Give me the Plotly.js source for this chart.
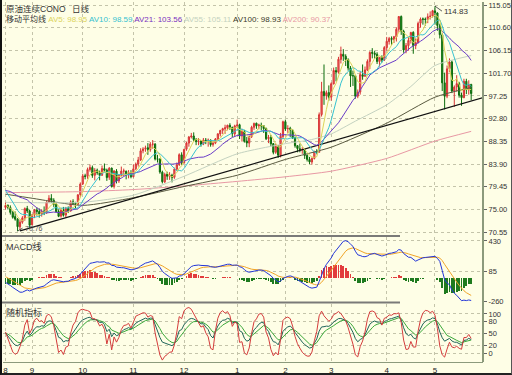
<!DOCTYPE html>
<html><head><meta charset="utf-8">
<script src="https://cdn.plot.ly/plotly-3.0.1.min.js"></script>
<style>
html,body{margin:0;padding:0;background:#fefee6;}
#wrap{position:relative;width:512px;height:375px;overflow:hidden;}
#chart{width:512px;height:375px;}
#frame{position:absolute;left:0;top:0;width:512px;height:375px;box-sizing:border-box;border-left:2px solid #111;border-bottom:2px solid #222;border-right:1px solid #555;pointer-events:none;}
</style></head><body>
<div id="wrap"><div id="chart"></div><div id="frame"></div></div>
<script>
// ---------- data ----------
const monthLabels = ['8','9','10','11','12','1','2','3','4','5'];
const monthCounts = [11,21,21,21,22,20,19,23,20,16];

// closes before the first visible bar (warm-up for the short averages / MACD)
const priorClose = [77.58,77.42,76.65,79.30,78.98,79.00,77.50,76.00,78.36,78.95,81.34,82.55,82.49,82.01,80.70,81.48,80.25,78.02,75.74,75.39,75.24];

const openP = [
75.4,75.8,75.4,74.4,73.6,73.1,71.6,72.5,73.4,75.2,74.7,
72.0,73.9,74.9,74.6,74.1,74.7,74.3,76.5,77.2,76.8,76.0,74.6,73.7,74.9,73.9,75.2,74.7,76.5,76.2,76.0,77.9,
80.0,81.6,81.5,82.8,83.2,81.7,82.7,82.2,81.7,83.0,82.7,81.3,83.1,79.5,82.5,80.6,81.7,82.5,82.5,81.9,82.2,
81.4,83.0,83.9,84.7,86.5,86.9,87.1,86.7,87.8,87.8,84.9,84.9,82.3,80.4,81.9,81.5,81.7,81.3,82.9,83.8,85.7,
84.1,86.8,88.0,89.2,89.4,88.7,88.3,88.4,87.8,88.6,88.3,88.6,87.7,88.0,88.8,89.8,90.5,90.8,91.0,91.5,91.1,89.8,
91.4,91.6,89.4,90.3,88.4,88.0,89.3,91.1,91.9,91.4,91.5,91.4,90.9,88.9,89.1,87.9,86.2,87.3,85.6,89.3,
92.2,90.8,90.9,90.5,89.0,87.5,86.9,86.7,86.7,85.6,84.8,84.3,85.0,86.4,86.2,93.6,98.1,97.3,97.9,
97.0,99.6,102.2,101.9,104.4,105.4,105.0,104.4,102.7,101.2,101.2,97.2,98.0,101.4,101.1,102.3,104.0,105.8,105.6,105.4,104.0,104.8,104.3,
106.7,107.9,108.5,108.3,108.8,110.3,112.8,109.9,106.3,107.1,108.1,109.7,107.1,107.7,111.5,112.3,112.3,112.2,112.8,112.9,
113.9,113.5,111.0,109.2,99.8,97.2,102.6,103.9,98.2,99.0,99.7,97.4,96.9,100.1,98.4,99.5];

const highP = [
76.4,76.0,75.8,74.7,74.6,73.3,73.0,73.7,75.4,75.7,74.9,
74.1,75.1,75.4,75.2,75.0,75.6,76.6,77.8,78.0,77.2,76.3,75.0,75.3,75.5,75.5,75.6,76.8,77.0,76.5,78.0,80.3,
82.0,82.0,83.2,83.8,83.6,83.1,83.0,82.6,83.6,84.0,83.0,83.3,83.2,82.7,82.9,81.9,83.4,83.0,82.6,82.7,82.7,
83.8,84.2,85.3,87.0,87.2,87.5,88.0,88.2,88.6,88.0,85.7,85.0,82.6,82.2,82.4,82.3,82.0,83.2,84.2,86.0,86.2,
86.9,88.3,89.4,90.0,90.1,89.0,89.0,88.6,89.0,89.0,88.9,88.7,88.4,89.0,89.9,90.6,91.0,91.6,91.6,91.9,91.2,91.6,
92.6,91.8,90.8,90.6,89.2,89.5,91.4,92.0,92.0,91.8,92.0,91.5,91.0,89.6,89.6,88.0,87.9,87.6,90.0,92.4,
92.6,91.5,91.2,90.7,89.3,87.6,87.9,87.2,86.9,85.8,85.3,85.2,86.5,86.8,94.0,100.0,103.4,98.3,99.3,
99.9,102.8,102.9,104.9,106.9,106.4,105.4,104.6,103.1,102.2,101.3,98.5,102.0,103.4,103.0,104.4,106.0,106.6,106.1,105.8,104.8,105.2,107.0,
108.8,108.8,108.9,109.0,110.7,112.9,113.0,110.2,107.6,108.8,109.8,109.9,108.5,111.8,112.6,112.6,112.6,113.4,113.8,114.1,
114.83,113.6,111.4,109.5,101.8,103.2,104.6,104.2,99.3,101.3,100.0,97.9,100.6,100.6,100.3,99.6];

const lowP = [
75.0,75.0,74.0,73.2,72.8,70.76,71.0,72.2,72.8,74.3,71.4,
71.9,73.3,73.8,73.4,73.6,73.9,74.2,76.3,76.3,75.5,74.4,73.5,73.4,73.6,73.5,74.3,74.6,75.9,75.2,75.9,77.4,
79.8,80.9,81.0,82.4,81.2,80.7,81.8,80.7,81.6,82.3,80.6,80.8,79.3,79.1,80.1,80.2,81.6,81.5,80.9,81.1,81.1,
81.3,82.7,83.4,84.5,86.0,86.3,85.7,86.3,86.9,84.6,84.2,82.0,80.1,80.2,80.8,80.8,80.3,81.0,82.6,83.5,83.7,
84.0,86.5,87.3,88.9,88.3,87.6,87.6,87.3,87.6,87.8,87.3,87.3,87.3,87.8,88.5,89.3,89.8,89.8,90.5,90.6,89.2,89.3,
91.0,88.8,88.3,88.1,87.2,87.2,89.0,90.6,90.8,90.7,90.5,90.0,88.6,88.0,87.4,85.8,85.9,85.1,85.2,88.8,
90.4,90.0,89.2,88.8,87.1,86.2,86.2,85.9,84.9,84.4,83.9,83.8,84.8,85.8,86.2,93.2,95.5,96.5,96.3,
96.3,99.5,100.1,101.6,103.6,104.1,103.1,102.2,99.0,99.2,96.7,96.8,97.5,100.4,101.0,102.1,102.5,104.6,104.5,103.5,103.0,103.8,104.1,
106.1,107.3,107.2,107.6,107.9,109.8,109.2,105.7,105.6,106.1,107.5,105.5,106.4,107.5,110.6,111.2,111.0,111.5,112.2,112.6,
111.2,110.0,108.5,98.2,94.6,96.8,101.9,97.8,95.1,98.1,96.9,95.3,96.8,97.6,97.5,96.4];

const closeP = [
75.77,75.42,74.43,73.46,73.10,71.63,72.52,73.36,75.17,74.70,71.92,
73.91,74.90,74.60,74.09,74.67,74.25,76.45,77.19,76.80,76.02,74.57,73.66,74.86,73.86,75.18,74.71,76.49,76.18,76.02,77.86,79.97,
81.58,81.47,82.82,83.23,81.67,82.66,82.21,81.67,83.01,82.69,81.25,83.08,79.49,82.54,80.56,81.69,82.52,82.55,81.94,82.18,81.43,
82.95,83.90,84.69,86.49,86.85,87.06,86.72,87.81,87.81,84.88,84.86,82.34,80.44,81.85,81.51,81.74,81.25,82.89,83.76,85.73,84.11,
86.75,88.00,89.19,89.38,88.69,88.28,88.37,87.79,88.61,88.28,88.62,87.70,88.02,88.81,89.82,90.48,90.83,91.00,91.49,91.12,89.84,91.38,
91.55,89.38,90.30,88.38,88.03,89.25,91.11,91.86,91.40,91.54,91.38,90.86,88.86,89.11,87.87,86.19,87.33,85.64,89.34,92.19,
90.77,90.86,90.54,89.03,87.48,86.94,86.71,86.73,85.58,84.81,84.32,84.99,86.36,86.20,93.57,98.10,97.28,97.88,96.97,
99.63,102.23,101.91,104.42,105.44,105.02,104.38,102.70,101.16,101.19,97.18,97.98,101.42,101.07,102.33,104.00,105.75,105.60,105.40,103.98,104.79,104.27,106.72,
107.94,108.47,108.34,108.83,110.30,112.79,109.92,106.25,107.11,108.11,109.66,107.12,107.68,111.45,112.29,112.28,112.21,112.76,112.86,113.93,
113.52,111.05,109.24,99.80,97.18,102.55,103.88,98.21,98.97,99.65,97.37,96.91,100.10,98.44,99.49,97.70];

// long averages at a few bars (bar number, value)
const av55Bar  = [0,20,32,53,74,96,116,126,135,145,158,168,178,193];
const av55Val  = [76.4,76.3,76.4,77.8,81.5,85.9,87.9,88.6,89.8,92.3,95.5,99.1,103.2,105.15];
const av100Bar = [0,11,32,53,74,96,116,135,158,178,193];
const av100Val = [78.0,77.2,75.8,77.3,79.5,81.7,84.8,87.2,91.9,97.0,98.9];
const av200Bar = [0,32,53,74,96,116,135,158,178,193];
const av200Val = [78.3,78.5,78.9,79.6,80.5,81.4,82.5,85.0,88.4,90.3];

// hand-drawn trend line (bar, price)
const trendBar   = [6, 198.7];
const trendPrice = [70.8, 97.0];

const maNames  = ['AV5','AV10','AV21','AV55','AV100','AV200'];
const maLegend = ['98.95','98.59','103.56','105.11','98.93','90.37'];
const maColors = ['#dcd45a','#36c2d0','#7a30c0','#c4d2c0','#3a3a2c','#e898a4'];

const priceTicks = [70.55,75.00,79.45,83.90,88.35,92.80,97.25,101.70,106.15,110.60,115.05];
const macdTicks  = [-260,85,430];
const kdjTicks   = [0,20,50,80,100];

// ---------- derived ----------
const N = closeP.length;
const bars = Array.from({length:N},(_,i)=>i);
const all = priorClose.concat(closeP);
const P = priorClose.length;
function sma(n){
  return bars.map(i=>{const j=i+P, s=Math.max(0,j-n+1); let t=0; for(let k=s;k<=j;k++) t+=all[k]; return t/(j-s+1);});
}
function ema(arr,n){const a=2/(n+1); const out=[]; let e=arr[0]; arr.forEach((v,i)=>{e=i===0?v:a*v+(1-a)*e; out.push(e);}); return out;}
const ma5=sma(5), ma10=sma(10), ma21=sma(21);
const e12=ema(all,12), e26=ema(all,26);
const difAll=all.map((_,i)=>(e12[i]-e26[i])*100);
const deaAll=ema(difAll,9);
const dif=difAll.slice(P), dea=deaAll.slice(P);
const hist=dif.map((v,i)=>v-dea[i]);
let K=50,D=50; const kA=[],dA=[],jA=[];
for(let i=0;i<N;i++){
  const s=Math.max(0,i-8);
  const hh=Math.max(...highP.slice(s,i+1)), ll=Math.min(...lowP.slice(s,i+1));
  const rsv=hh===ll?50:(closeP[i]-ll)/(hh-ll)*100;
  K=2/3*K+rsv/3; D=2/3*D+K/3; kA.push(K); dA.push(D); jA.push(3*K-2*D);
}
const monthPos=[]; monthCounts.reduce((acc,c)=>{monthPos.push(acc); return acc+c;},0);
const peakI = highP.indexOf(Math.max(...highP));
const lowI  = lowP.indexOf(Math.min(...lowP));

// ---------- layout helpers (pixel -> paper) ----------
const W=512,H=375,mL=3,mR=29,mT=2,mB=13;
const pw=W-mL-mR, ph=H-mT-mB;
const px=x=>(x-mL)/pw, py=y=>(H-mB-y)/ph;

const grid={showgrid:true,gridcolor:'#c4c4aa',griddash:'dot',gridwidth:1};
const yCommon=Object.assign({side:'right',anchor:'x',ticks:'outside',ticklen:3,tickcolor:'#666',
  tickfont:{size:7.5,color:'#333',family:'Liberation Sans, Arial'},zeroline:false,showline:false,fixedrange:true},grid);

const traces=[
 {type:'candlestick',x:bars,open:openP,high:highP,low:lowP,close:closeP,yaxis:'y',
  increasing:{line:{color:'#d83434',width:1},fillcolor:'#f06a6a'},
  decreasing:{line:{color:'#0c6c0c',width:1},fillcolor:'#1c8c1c'},
  whiskerwidth:0,hoverinfo:'skip',showlegend:false},
 {type:'scatter',mode:'lines',x:av200Bar,y:av200Val,yaxis:'y',line:{color:maColors[5],width:1,shape:'spline',smoothing:0.6},hoverinfo:'skip'},
 {type:'scatter',mode:'lines',x:av100Bar,y:av100Val,yaxis:'y',line:{color:'#5a5a40',width:1,shape:'spline',smoothing:0.6},hoverinfo:'skip'},
 {type:'scatter',mode:'lines',x:av55Bar,y:av55Val,yaxis:'y',line:{color:maColors[3],width:1,shape:'spline',smoothing:0.6},hoverinfo:'skip'},
 {type:'scatter',mode:'lines',x:trendBar,y:trendPrice,yaxis:'y',line:{color:'#111',width:1.2},hoverinfo:'skip'},
 {type:'scatter',mode:'lines',x:bars,y:ma21,yaxis:'y',line:{color:'#6a3cc8',width:1},hoverinfo:'skip'},
 {type:'scatter',mode:'lines',x:bars,y:ma10,yaxis:'y',line:{color:maColors[1],width:1},hoverinfo:'skip'},
 {type:'scatter',mode:'lines',x:bars,y:ma5,yaxis:'y',line:{color:maColors[0],width:1},hoverinfo:'skip'},
 {type:'bar',x:bars,y:hist,yaxis:'y2',width:0.75,marker:{color:hist.map(v=>v>=0?'#e23c3c':'#1e7a1e'),line:{width:0}},hoverinfo:'skip'},
 {type:'scatter',mode:'lines',x:bars,y:dea,yaxis:'y2',line:{color:'#f0a428',width:1},hoverinfo:'skip'},
 {type:'scatter',mode:'lines',x:bars,y:dif,yaxis:'y2',line:{color:'#2436d8',width:1},hoverinfo:'skip'},
 {type:'scatter',mode:'lines',x:bars,y:dA,yaxis:'y3',line:{color:'#3aa83a',width:1},hoverinfo:'skip'},
 {type:'scatter',mode:'lines',x:bars,y:kA,yaxis:'y3',line:{color:'#1e6458',width:1},hoverinfo:'skip'},
 {type:'scatter',mode:'lines',x:bars,y:jA,yaxis:'y3',line:{color:'#d43c3c',width:1},hoverinfo:'skip'}
];

const legendSpans = '移动平均线 ' + maNames.map((n,i)=>`<span style="color:${maColors[i]}">${n}: ${maLegend[i]}</span>`).join(' ');
const txt=(t,x,y,size,color,xa)=>({text:t,xref:'paper',yref:'paper',x:px(x),y:py(y),xanchor:xa||'left',yanchor:'top',showarrow:false,
  font:{size:size,color:color,family:'Liberation Sans, Noto Sans CJK SC'}});

const layout={
 width:W,height:H,autosize:false,
 margin:{l:mL,r:mR,t:mT,b:mB,pad:0},
 paper_bgcolor:'#fefee6',plot_bgcolor:'#fefee6',
 showlegend:false,bargap:0,
 xaxis:Object.assign({range:[-1.04,197.9],anchor:'y3',tickmode:'array',tickvals:monthPos,ticktext:monthLabels,
   ticks:'',tickfont:{size:8,color:'#222',family:'Liberation Sans, Arial'},showline:true,linecolor:'#8c9a7c',linewidth:1,
   zeroline:false,rangeslider:{visible:false},fixedrange:true},grid),
 yaxis:Object.assign({},yCommon,{domain:[py(235),1],range:[70.0,115.64],tickmode:'array',tickvals:priceTicks,ticktext:priceTicks.map(v=>v.toFixed(2))}),
 yaxis2:Object.assign({},yCommon,{domain:[py(302),py(237)],range:[-270,475],tickmode:'array',tickvals:macdTicks,ticktext:macdTicks.map(String)}),
 yaxis3:Object.assign({},yCommon,{domain:[0,py(304)],range:[-23,125.6],tickmode:'array',tickvals:kdjTicks,ticktext:kdjTicks.map(String)}),
 shapes:[
  {type:'line',xref:'paper',yref:'paper',x0:px(0),x1:px(400),y0:py(236),y1:py(236),line:{color:'#7a7a78',width:2}},
  {type:'line',xref:'paper',yref:'paper',x0:px(0),x1:px(400),y0:py(302.5),y1:py(302.5),line:{color:'#7a7a78',width:2}},
  {type:'line',xref:'paper',yref:'paper',x0:1,x1:1,y0:0,y1:1,line:{color:'#8c9a7c',width:2}}
 ],
 annotations:[
  txt('原油连续CONO',4,2,8.5,'#333'),
  txt('日线',70,2,8.5,'#333'),
  txt(legendSpans,4,12,8,'#333'),
  txt('MACD线',4,239,9,'#333'),
  txt('随机指标',4,305,9,'#333'),
  {x:peakI,y:highP[peakI],xref:'x',yref:'y',text:highP[peakI].toFixed(2),showarrow:true,arrowhead:0,arrowwidth:0.8,arrowcolor:'#333',
   ax:7,ay:5,xanchor:'left',yanchor:'middle',font:{size:8,color:'#333',family:'Liberation Sans, Arial'}},
  {x:lowI,y:lowP[lowI],xref:'x',yref:'y',text:lowP[lowI].toFixed(2),showarrow:true,arrowhead:0,arrowwidth:0.8,arrowcolor:'#333',
   ax:5,ay:-3,xanchor:'left',yanchor:'middle',font:{size:7,color:'#555',family:'Liberation Sans, Arial'}}
 ]
};
Plotly.newPlot('chart',traces,layout,{staticPlot:true,displayModeBar:false});
</script></body></html>
